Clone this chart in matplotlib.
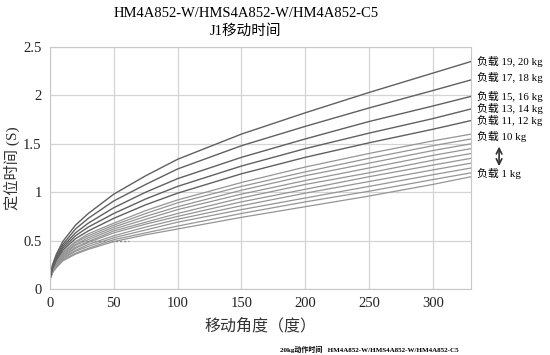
import matplotlib
matplotlib.use('Agg')
import matplotlib.pyplot as plt

plt.rcParams['font.family'] = ['Liberation Serif', 'Noto Sans CJK SC', 'DejaVu Sans']

# move angle (deg) sample points
angles = [0, 2, 5, 10, 20, 30, 50, 75, 100, 150, 200, 250, 300, 330]

# positioning time (s) per load
t_19_20 = [0.12, 0.25, 0.36, 0.49, 0.66, 0.78, 0.98, 1.17, 1.34, 1.60, 1.82, 2.03, 2.23, 2.35]
t_17_18 = [0.12, 0.24, 0.34, 0.46, 0.62, 0.73, 0.91, 1.08, 1.24, 1.48, 1.68, 1.87, 2.05, 2.16]
t_15_16 = [0.12, 0.23, 0.33, 0.44, 0.58, 0.68, 0.84, 1.00, 1.14, 1.36, 1.55, 1.73, 1.89, 1.99]
t_13_14 = [0.11, 0.22, 0.31, 0.42, 0.55, 0.64, 0.78, 0.93, 1.06, 1.27, 1.45, 1.61, 1.76, 1.86]
t_11_12 = [0.11, 0.21, 0.30, 0.40, 0.52, 0.60, 0.73, 0.87, 0.99, 1.19, 1.36, 1.51, 1.65, 1.74]
t_10 = [0.11, 0.20, 0.29, 0.38, 0.49, 0.57, 0.68, 0.81, 0.92, 1.10, 1.26, 1.40, 1.53, 1.60]
t_9 = [0.11, 0.20, 0.28, 0.37, 0.48, 0.55, 0.66, 0.78, 0.89, 1.06, 1.21, 1.35, 1.48, 1.55]
t_8 = [0.11, 0.20, 0.27, 0.36, 0.46, 0.53, 0.64, 0.75, 0.85, 1.02, 1.17, 1.30, 1.43, 1.50]
t_7 = [0.10, 0.19, 0.27, 0.35, 0.45, 0.51, 0.62, 0.72, 0.82, 0.98, 1.12, 1.25, 1.38, 1.45]
t_6 = [0.10, 0.19, 0.26, 0.34, 0.43, 0.49, 0.60, 0.69, 0.78, 0.94, 1.08, 1.20, 1.33, 1.40]
t_5 = [0.10, 0.18, 0.25, 0.33, 0.42, 0.48, 0.58, 0.67, 0.75, 0.90, 1.03, 1.16, 1.28, 1.35]
t_4 = [0.10, 0.18, 0.25, 0.32, 0.40, 0.46, 0.55, 0.64, 0.72, 0.86, 0.99, 1.11, 1.23, 1.30]
t_3 = [0.10, 0.18, 0.24, 0.31, 0.39, 0.44, 0.53, 0.61, 0.69, 0.82, 0.94, 1.06, 1.18, 1.25]
t_2 = [0.10, 0.17, 0.23, 0.30, 0.37, 0.42, 0.51, 0.58, 0.65, 0.78, 0.90, 1.01, 1.13, 1.20]
t_1 = [0.10, 0.17, 0.22, 0.29, 0.36, 0.41, 0.49, 0.56, 0.62, 0.74, 0.85, 0.96, 1.08, 1.16]

heavy = [t_19_20, t_17_18, t_15_16, t_13_14, t_11_12]
light = [t_10, t_9, t_8, t_7, t_6, t_5, t_4, t_3, t_2, t_1]

# right-hand labels and the time each sits at
end_labels = ['负载 19, 20 kg', '负载 17, 18 kg', '负载 15, 16 kg', '负载 13, 14 kg',
              '负载 11, 12 kg', '负载 10 kg', '负载 1 kg']
end_label_y = [2.35, 2.18, 1.99, 1.87, 1.74, 1.58, 1.19]

xticks = [0, 50, 100, 150, 200, 250, 300]
yticks = [0, 0.5, 1, 1.5, 2, 2.5]
ytick_labels = ['0', '0.5', '1', '1.5', '2', '2.5']

fig = plt.figure(figsize=(5.5, 3.55), dpi=100)
ax = fig.add_axes([0.0909, 0.1859, 0.7655, 0.6817])

for t in light:
    ax.plot(angles, t, color='#959595', lw=0.9)
for t in heavy:
    ax.plot(angles, t, color='#606060', lw=1.0)

# dotted reference segment at 0.5 s
ax.plot([25, 62], [0.5, 0.5], color='#888888', lw=1.0, ls=(0, (1.5, 1.5)))

ax.set_xlim(0, 330)
ax.set_ylim(0, 2.5)
ax.set_xticks(xticks)
ax.set_yticks(yticks)
ax.set_yticklabels(ytick_labels)
ax.tick_params(length=0, labelsize=10.5, pad=6, colors='#222222')
ax.grid(True, color='#d4d4d4', lw=0.9)
for s in ax.spines.values():
    s.set_color('#c8c8c8')

ax.set_xlabel('移动角度（度）', fontsize=11.5, labelpad=6, color='#333333')
ax.set_ylabel('定位时间 (S)', fontsize=11, color='#333333')
ax.yaxis.set_label_coords(-0.071, 0.5)

fig.text(0.447, 0.962, 'HM4A852-W/HMS4A852-W/HM4A852-C5', ha='center', va='center', fontsize=10.5)
fig.text(0.447, 0.912, 'J1移动时间', ha='center', va='center', fontsize=10.5)

for lab, y in zip(end_labels, end_label_y):
    ax.annotate(lab, xy=(330, y), xytext=(4, 0), textcoords='offset points',
                va='center', fontsize=7.8, annotation_clip=False)
ax.annotate('', xy=(352, t_10[-1] - 0.1), xytext=(352, t_1[-1] + 0.08),
            arrowprops=dict(arrowstyle='<->', color='#333333', lw=1.2),
            annotation_clip=False)

fig.text(0.51, 0.017, '20kg动作时间   HM4A852-W/HMS4A852-W/HM4A852-C5',
         fontsize=5, ha='left', va='center', fontweight='bold')

fig.savefig('out.png', dpi=100)
